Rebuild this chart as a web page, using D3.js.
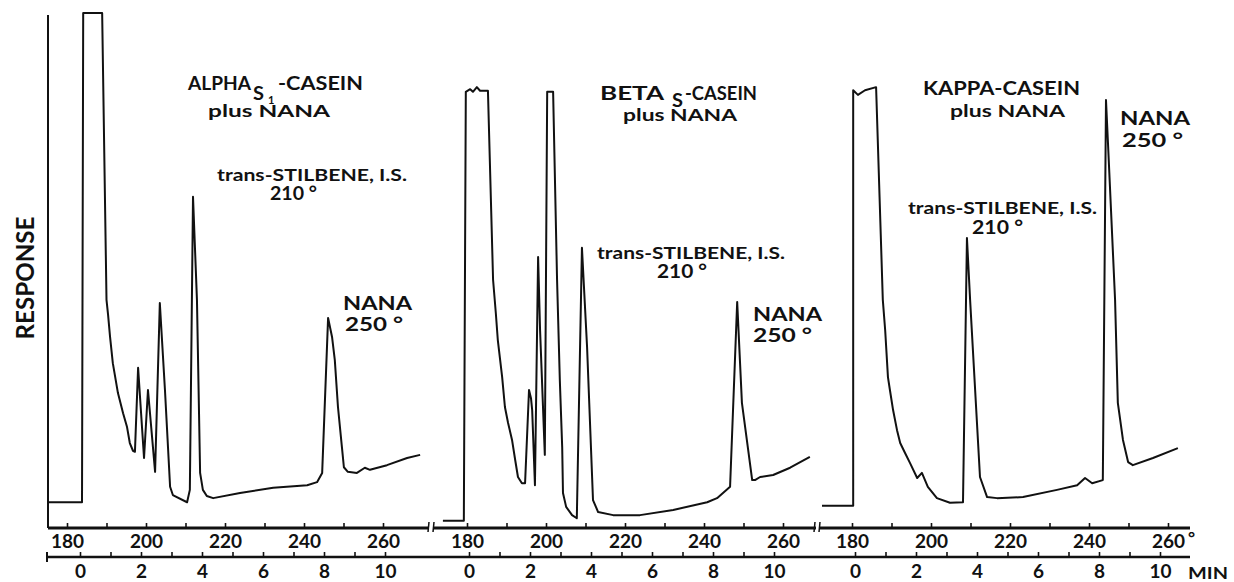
<!DOCTYPE html>
<html><head><meta charset="utf-8">
<script src="https://cdn.jsdelivr.net/npm/d3@7"></script>
<style>body{margin:0;background:#fff}svg text{font-family:Lato,"Open Sans",sans-serif;font-weight:700;fill:#111}</style>
</head><body>
<svg id="c" width="1234" height="582"></svg>
<script>
// ---- data ----
const tempTicks = [180, 190, 200, 210, 220, 230, 240, 250, 260];   // °C, labelled every 20
const minTicks = [0, 1, 2, 3, 4, 5, 6, 7, 8, 9, 10];                // minutes, labelled every 2
const yLabel = "RESPONSE";
const titleMain = ["ALPHA", "BETA", "KAPPA-CASEIN"];
const titleSub = ["S", "S", ""];
const titleSubSub = ["1", "", ""];
const titleTail = ["-CASEIN", "-CASEIN", ""];
const subtitle = "plus NANA";
const isLabel = ["trans-STILBENE, I.S.", "210 °"];
const nanaLabel = ["NANA", "250 °"];

// [temperature °C, response (arbitrary units, 100 = pen full scale)]
const alphaTrace = [[175.2,5.0],[183.8,5.0],[184.1,100],[188.9,100],[190.0,44.3],[190.4,41.4],[190.9,37.1],[191.6,32.0],[192.9,26.2],[194.2,22.3],[195.2,19.6],[195.9,16.5],[196.7,15.0],[197.2,14.8],[198.0,31.1],[199.5,13.6],[200.5,26.8],[202.3,10.9],[203.5,43.7],[204.8,26.8],[206.1,8.0],[206.8,6.4],[210.4,5.0],[211.1,7.4],[211.9,64.3],[212.9,44.3],[213.7,10.7],[214.4,7.4],[215.4,6.2],[217.0,5.8],[223.8,6.8],[232.2,7.8],[240.8,8.3],[243.3,8.9],[244.6,10.7],[246.1,40.8],[247.1,37.1],[247.8,32.6],[248.6,23.5],[249.6,15.7],[250.1,11.8],[251.1,10.9],[253.4,10.7],[255.4,11.7],[256.7,11.3],[261.0,12.2],[266.1,13.6],[269.4,14.2]];
const betaTrace = [[173.9,1.4],[179.2,1.4],[179.7,84.7],[180.8,85.2],[181.5,84.7],[182.5,85.6],[183.3,84.9],[185.3,84.9],[186.6,48.2],[187.3,41.7],[187.8,36.5],[188.9,29.3],[189.6,23.5],[190.4,20.4],[191.4,17.1],[192.2,13.2],[192.9,9.9],[193.9,8.7],[194.7,8.7],[195.7,26.8],[196.2,25.2],[196.5,22.9],[197.2,8.3],[198.0,52.6],[198.5,38.4],[199.7,14.2],[200.3,84.7],[201.8,84.7],[202.8,48.2],[203.5,28.7],[204.1,15.7],[204.3,6.8],[205.1,4.1],[206.6,2.5],[207.8,1.9],[209.1,54.4],[210.4,35.1],[211.9,5.4],[213.2,3.1],[217.0,2.5],[223.8,2.5],[232.2,3.5],[240.8,5.0],[243.3,5.8],[246.6,8.0],[248.4,43.9],[249.6,24.3],[252.2,9.3],[252.9,9.3],[254.2,9.9],[257.5,10.3],[261.8,11.7],[266.8,13.8]];
const kappaTrace = [[172.4,4.3],[180.3,4.3],[180.3,85.0],[181.5,84.1],[183.3,85.0],[186.1,85.6],[187.8,44.3],[188.4,38.4],[189.1,29.3],[189.6,26.8],[190.4,22.9],[191.4,19.0],[192.2,16.5],[193.4,14.6],[194.7,12.6],[196.5,9.7],[197.7,10.7],[199.2,8.0],[201.5,5.8],[204.8,4.9],[208.1,5.0],[209.1,56.3],[209.9,44.3],[212.4,9.9],[214.2,6.0],[216.7,5.8],[223.3,6.0],[231.9,7.4],[237.0,8.3],[239.0,9.7],[240.8,8.7],[243.5,9.3],[244.3,83.1],[244.8,74.8],[246.6,44.3],[247.3,24.3],[248.6,17.1],[249.9,12.8],[251.1,12.2],[256.2,13.6],[262.5,15.5]];

// ---- layout ----
const svg = d3.select("#c");
const axisY = 528, minAxisY = 557;
const y = d3.scaleLinear().domain([0, 100]).range([axisY, 13]);
const panels = [
  {x180: 67,  m0: 80,  left: 48,  right: 429, trace: alphaTrace,
   tMain: [188, 90, 63], tSub: [253, 100, 11], tSubSub: [268, 104], tTail: [278, 90, 85],
   sub: [208, 117, 122], is: [217, 181, 190], isT: [270, 200, 47], nana: [343, 310, 69], nanaT: [345, 331, 58]},
  {x180: 467, m0: 469, left: 433, right: 816, trace: betaTrace,
   tMain: [600, 100, 64], tSub: [672, 107, 11], tSubSub: null, tTail: [685, 100, 72],
   sub: [623, 121, 114], is: [597, 259, 188], isT: [657, 278, 50], nana: [753, 321, 69], nanaT: [753, 342, 59]},
  {x180: 852, m0: 855, left: 820, right: 1190, trace: kappaTrace,
   tMain: [923, 95, 157], tSub: null, tSubSub: null, tTail: null,
   sub: [950, 117, 115], is: [908, 214, 189], isT: [972, 234, 51], nana: [1120, 125, 70], nanaT: [1122, 147, 61]}
];
function label(g, pos, txt, size) {
  const t = g.append("text").attr("x", pos[0]).attr("y", pos[1]).attr("font-size", size).text(txt);
  if (pos[2]) t.attr("textLength", pos[2]).attr("lengthAdjust", "spacingAndGlyphs");
  return t;
}

// y axis line (left panel only) and label
svg.append("line").attr("x1", 48).attr("x2", 48).attr("y1", 15).attr("y2", axisY)
  .attr("stroke", "#111").attr("stroke-width", 2);
svg.append("text").attr("transform", "translate(34,278) rotate(-90)")
  .attr("text-anchor", "middle").attr("font-size", 25)
  .attr("textLength", 123).attr("lengthAdjust", "spacingAndGlyphs").text(yLabel);

// minutes axis: one continuous line
svg.append("line").attr("x1", 47).attr("x2", 1190).attr("y1", minAxisY).attr("y2", minAxisY)
  .attr("stroke", "#111").attr("stroke-width", 2.5);
svg.append("line").attr("x1", 47).attr("x2", 47).attr("y1", minAxisY - 5).attr("y2", minAxisY + 5)
  .attr("stroke", "#111").attr("stroke-width", 2);

panels.forEach((p, i) => {
  const x = d3.scaleLinear().domain([180, 260]).range([p.x180, p.x180 + 316]);
  const xm = d3.scaleLinear().domain([0, 10]).range([p.m0, p.m0 + 305]);
  const g = svg.append("g");

  // temperature axis line
  g.append("line").attr("x1", p.left).attr("x2", p.right).attr("y1", axisY).attr("y2", axisY)
    .attr("stroke", "#111").attr("stroke-width", 2.8);

  const ax = d3.axisBottom(x).tickValues(tempTicks).tickSizeInner(-5).tickSizeOuter(0).tickPadding(7)
    .tickFormat(d => d % 20 === 0 ? d : "");
  const ga = g.append("g").attr("transform", `translate(0,${axisY})`).call(ax);
  ga.select(".domain").remove();
  ga.selectAll(".tick line").attr("stroke", "#111").attr("stroke-width", 1.6);
  ga.selectAll(".tick text").attr("font-size", 19).attr("font-family", null).style("font-weight", 700).attr("fill", "#111");

  const am = d3.axisBottom(xm).tickValues(minTicks).tickSizeInner(-5).tickSizeOuter(0).tickPadding(8)
    .tickFormat(d => d % 2 === 0 ? d : "");
  const gm = g.append("g").attr("transform", `translate(0,${minAxisY})`).call(am);
  gm.select(".domain").remove();
  gm.selectAll(".tick line").attr("stroke", "#111").attr("stroke-width", 1.6);
  gm.selectAll(".tick text").attr("font-size", 19).attr("font-family", null).style("font-weight", 700).attr("fill", "#111");

  // chromatogram trace
  const line = d3.line().x(d => x(d[0])).y(d => y(d[1]));
  g.append("path").datum(p.trace).attr("d", line).attr("fill", "none")
    .attr("stroke", "#111").attr("stroke-width", 2).attr("stroke-linejoin", "round");

  // titles and peak labels
  label(g, p.tMain, titleMain[i], 19);
  if (p.tSub) label(g, p.tSub, titleSub[i], 18);
  if (p.tSubSub) label(g, p.tSubSub, titleSubSub[i], 11);
  if (p.tTail) label(g, p.tTail, titleTail[i], 19);
  label(g, p.sub, subtitle, 17);
  label(g, p.is, isLabel[0], 17);
  label(g, p.isT, isLabel[1], 18);
  label(g, p.nana, nanaLabel[0], 18);
  label(g, p.nanaT, nanaLabel[1], 18);
});

// axis breaks
[[429, 434], [815, 820]].forEach(b => b.forEach(bx =>
  svg.append("line").attr("x1", bx).attr("x2", bx - 1).attr("y1", axisY - 6).attr("y2", axisY + 4)
    .attr("stroke", "#111").attr("stroke-width", 1.5)));
svg.append("text").attr("x", 1188).attr("y", 544).attr("font-size", 17).text("°");
svg.append("text").attr("x", 1188).attr("y", 579).attr("font-size", 17)
  .attr("textLength", 40).attr("lengthAdjust", "spacingAndGlyphs").text("MIN");
</script>
</body></html>
